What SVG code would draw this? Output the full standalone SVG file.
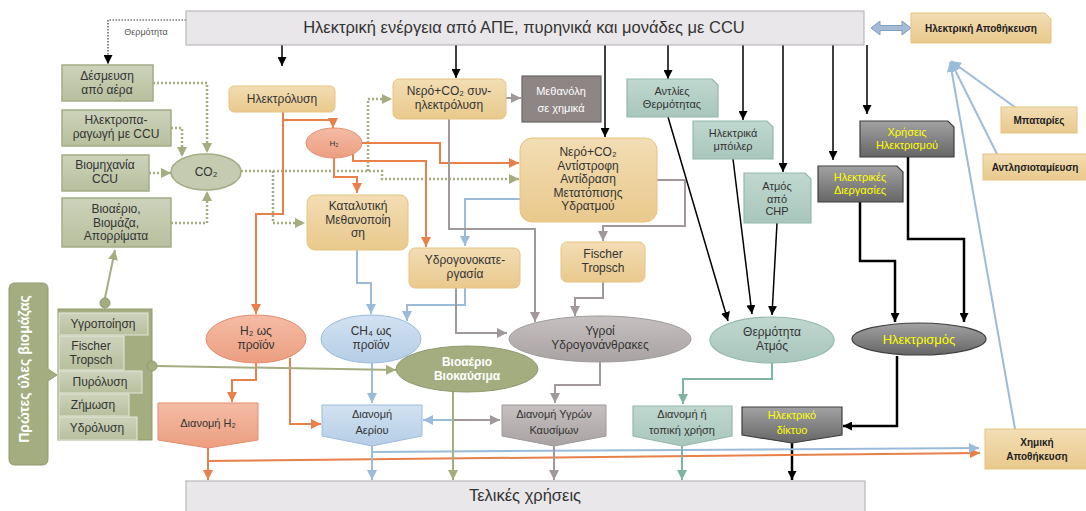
<svg xmlns="http://www.w3.org/2000/svg" width="1086" height="511" viewBox="0 0 1086 511">
<defs>
<linearGradient id="gBeige" x1="0" y1="0" x2="0" y2="1"><stop offset="0" stop-color="#f3ddb4"/><stop offset="1" stop-color="#e9c98c"/></linearGradient>
<linearGradient id="gGreen" x1="0" y1="0" x2="0" y2="1"><stop offset="0" stop-color="#cdd3bb"/><stop offset="1" stop-color="#b7bf9d"/></linearGradient>
<linearGradient id="gTeal" x1="0" y1="0" x2="0" y2="1"><stop offset="0" stop-color="#c0d8cf"/><stop offset="1" stop-color="#a8c6bc"/></linearGradient>
<linearGradient id="gSalmon" x1="0" y1="0" x2="0" y2="1"><stop offset="0" stop-color="#f4bca5"/><stop offset="1" stop-color="#ec9e80"/></linearGradient>
<linearGradient id="gBlue" x1="0" y1="0" x2="0" y2="1"><stop offset="0" stop-color="#d2e2f1"/><stop offset="1" stop-color="#b5cde6"/></linearGradient>
<linearGradient id="gGray" x1="0" y1="0" x2="0" y2="1"><stop offset="0" stop-color="#c6c0c0"/><stop offset="1" stop-color="#a9a2a2"/></linearGradient>
<linearGradient id="gDark" x1="0" y1="0" x2="0" y2="1"><stop offset="0" stop-color="#a2a2a2"/><stop offset="1" stop-color="#666"/></linearGradient>
<marker id="mK" viewBox="0 0 10 10" refX="10" refY="5" markerWidth="9" markerHeight="9" markerUnits="userSpaceOnUse" orient="auto"><path d="M0,0L10,5L0,10z" fill="#000"/></marker>
<marker id="mO" viewBox="0 0 10 10" refX="10" refY="5" markerWidth="10" markerHeight="10" markerUnits="userSpaceOnUse" orient="auto"><path d="M0,0L10,5L0,10z" fill="#e8804a"/></marker>
<marker id="mB" viewBox="0 0 10 10" refX="10" refY="5" markerWidth="10" markerHeight="10" markerUnits="userSpaceOnUse" orient="auto"><path d="M0,0L10,5L0,10z" fill="#9bbbdb"/></marker>
<marker id="mG" viewBox="0 0 10 10" refX="10" refY="5" markerWidth="10" markerHeight="10" markerUnits="userSpaceOnUse" orient="auto"><path d="M0,0L10,5L0,10z" fill="#a19999"/></marker>
<marker id="mN" viewBox="0 0 10 10" refX="10" refY="5" markerWidth="10" markerHeight="10" markerUnits="userSpaceOnUse" orient="auto"><path d="M0,0L10,5L0,10z" fill="#a3ad7f"/></marker>
<marker id="mT" viewBox="0 0 10 10" refX="10" refY="5" markerWidth="10" markerHeight="10" markerUnits="userSpaceOnUse" orient="auto"><path d="M0,0L10,5L0,10z" fill="#7fb3a3"/></marker>
</defs>
<style>
text{font-family:"Liberation Sans",Arial,"DejaVu Sans",sans-serif;fill:#333;text-anchor:middle}
.t12{font-size:12px}
.t11{font-size:11px}
.b10{font-size:10px;font-weight:bold;fill:#222}
.yel{fill:#ffff00}
.wh{fill:#fff}
.ln{fill:none}
.k{stroke:#000;stroke-width:1.5;marker-end:url(#mK)}
.kt{stroke:#000;stroke-width:2.5;marker-end:url(#mK)}
.o{stroke:#e8804a;stroke-width:2;marker-end:url(#mO)}
.bl{stroke:#9bbbdb;stroke-width:2;marker-end:url(#mB)}
.gr{stroke:#a19999;stroke-width:2;marker-end:url(#mG)}
.gn{stroke:#a3ad7f;stroke-width:2;marker-end:url(#mN)}
.gd{stroke:#a3ad7f;stroke-width:2.5;stroke-dasharray:2 2;marker-end:url(#mN)}
.tl{stroke:#7fb3a3;stroke-width:2;marker-end:url(#mT)}
.beige{fill:url(#gBeige);stroke:#e6c482;stroke-width:1}
.green{fill:url(#gGreen);stroke:#a3ad86;stroke-width:1.5}
.teal{fill:url(#gTeal);stroke:#93b8ab;stroke-width:1.2}
.salmon{fill:url(#gSalmon);stroke:#e58c6c;stroke-width:1}
.blue{fill:url(#gBlue);stroke:#9cbcdc;stroke-width:1}
.gray{fill:url(#gGray);stroke:#9e9898;stroke-width:1}
.dark{fill:url(#gDark);stroke:#3f3f3f;stroke-width:1.2}
.olive{fill:#a3ad7f;stroke:#8f9a6c;stroke-width:1}
.inner{fill:url(#gGreen);stroke:#e4e7dc;stroke-width:1}
</style>

<g id="connectors" class="ln">
<path d="M186,20 H108 V64" stroke="#333" stroke-width="1.2" stroke-dasharray="1.5 1.5" marker-end="url(#mK)"/>
<path class="k" d="M282,45 V66"/>
<path class="k" d="M456,45 V78"/>
<path class="k" d="M605,45 V137"/>
<path class="k" d="M668,45 V79"/>
<path class="k" d="M743,45 V120"/>
<path class="k" d="M783,45 V172"/>
<path class="k" d="M833,45 V160"/>
<path class="k" d="M867,45 V114"/>
<path class="k" d="M668,117 L728,321"/>
<path class="k" d="M733,159 L752,314"/>
<path class="k" d="M777,223 L772,315"/>
<path class="kt" d="M860,202 V261 H895 V322"/>
<path class="kt" d="M908,157 V239 H964 V322"/>
<path class="kt" d="M897,356 V426 H843"/>
<path class="kt" d="M792,443 V480"/>
<path class="gd" d="M153,83 H207 V153"/>
<path class="gd" d="M171,128 H182 V157"/>
<path class="gd" d="M149,173 H171"/>
<path class="gd" d="M171,223 H207 V191"/>
<path class="gd" d="M241,171 H382 V179 H519"/>
<path class="gd" d="M368,171 V99 H392"/>
<path class="gd" d="M273,171 V223 H305"/>
<path class="o" d="M283,112 V214 H256 V314"/>
<path class="o" d="M283,120 H333 V128"/>
<path class="o" d="M362,143 H440 V163 H519"/>
<path class="o" d="M353,154 V161 H426 V247"/>
<path class="o" d="M334,158 V177 H357 V193"/>
<path class="o" d="M256,363 V380 H232 V402"/>
<path class="o" d="M290,358 V424 H321"/>
<path class="o" d="M208,448 V480"/>
<path class="o" d="M208,461 L980,453"/>
<path class="bl" d="M520,199 H465 V246"/>
<path class="bl" d="M465,288 V305 H407 V321"/>
<path class="bl" d="M357,250 V283 H371 V314"/>
<path class="bl" d="M372,363 V403"/>
<path class="bl" d="M453,420 H423"/>
<path class="bl" d="M372,446 V480"/>
<path class="bl" d="M373,452 L979,448"/>
<path class="bl" d="M1016,108 L951,61"/>
<path class="bl" d="M997,154 L951,62"/>
<path class="bl" d="M1015,429 L950,62"/>
<path class="gr" d="M506,98 H521"/>
<path class="gr" d="M449,119 V229 H535 V322"/>
<path class="gr" d="M657,180 H685 V226 H603 V241"/>
<path class="gr" d="M603,282 V298 H575 V316"/>
<path class="gr" d="M456,288 V333 H507"/>
<path class="gr" d="M600,362 V385 H555 V403"/>
<path class="gr" d="M453,420 H500"/>
<path class="gr" d="M554,446 V480"/>
<path class="gn" d="M105,298 L115,250"/>
<path class="gn" d="M157,366 L396,370"/>
<path class="gn" d="M453,392 V480"/>
<path class="tl" d="M772,363 V379 H683 V404"/>
<path class="tl" d="M682,446 V480"/>
<path d="M871,28 L880,21 V25.5 H902 V21 L911,28 L902,35 V30.5 H880 V35 Z" fill="#a6bcd6" stroke="#7f9dbd" stroke-width="1"/>
</g>

<g id="top">
<rect x="186" y="11" width="678" height="34" fill="#e9e7e9" stroke="#b0adb0"/>
<text x="524" y="33" style="font-size:16.5px">Ηλεκτρική ενέργεια από ΑΠΕ, πυρηνικά και μονάδες με CCU</text>
</g>
<g id="bottom">
<rect x="186" y="481" width="679" height="34" fill="#e9e7e9" stroke="#b0adb0"/>
<text x="525" y="501" style="font-size:16.5px">Τελικές χρήσεις</text>
</g>
<text x="146" y="35" style="font-size:9px;fill:#555">Θερμότητα</text>

<g id="desmeusi"><rect class="green" x="62" y="65" width="91" height="36"/><text class="t12" x="107" y="80">Δέσμευση<tspan x="107" dy="13.5">από αέρα</tspan></text></g>
<g id="ilektroparagogi"><rect class="green" x="62" y="110" width="109" height="36"/><text class="t12" x="116" y="124">Ηλεκτροπα-<tspan x="116" dy="13.5">ραγωγή με CCU</tspan></text></g>
<g id="viomixania"><rect class="green" x="62" y="155" width="87" height="36"/><text class="t12" x="105" y="169">Βιομηχανία<tspan x="105" dy="13.5">CCU</tspan></text></g>
<g id="vioaerio-box"><rect class="green" x="62" y="198" width="109" height="49"/><text class="t12" x="116" y="213">Βιοαέριο,<tspan x="116" dy="13.5">Βιομάζα,</tspan><tspan x="116" dy="13.5">Απορρίματα</tspan></text></g>
<g id="co2"><ellipse class="green" cx="206" cy="172" rx="35" ry="18" style="fill:#c4cbb0"/><text class="t12" x="206" y="176">CO₂</text></g>

<g id="ilektrolysi"><rect class="beige" x="229" y="86" width="106" height="26" rx="5"/><text class="t12" x="282" y="103">Ηλεκτρόλυση</text></g>
<g id="h2"><ellipse class="salmon" cx="334" cy="143" rx="28" ry="15"/><text x="334" y="146" style="font-size:8px">H₂</text></g>
<g id="synilektrolysi"><rect class="beige" x="393" y="79" width="113" height="40" rx="6"/><text class="t12" x="449" y="95">Νερό+CO₂ συν-<tspan x="449" dy="13.5">ηλεκτρόλυση</tspan></text></g>
<g id="methanoli"><rect x="522" y="76" width="79" height="46" fill="#8e8585" stroke="#6a6464" stroke-width="1.2"/><text class="t11 wh" x="561" y="95">Μεθανόλη<tspan x="561" dy="17">σε χημικά</tspan></text></g>
<g id="antistrofi"><rect class="beige" x="520" y="138" width="137" height="84" rx="12"/><text class="t12" x="588" y="156">Νερό+CO₂<tspan x="588" dy="13.5">Αντίστροφη</tspan><tspan x="588" dy="13.5">Αντίδραση</tspan><tspan x="588" dy="13.5">Μετατόπισης</tspan><tspan x="588" dy="13.5">Υδρατμού</tspan></text></g>
<g id="methanopoiisi"><rect class="beige" x="307" y="195" width="101" height="55" rx="8"/><text class="t12" x="358" y="210">Καταλυτική<tspan x="358" dy="13.5">Μεθανοποίη</tspan><tspan x="358" dy="13.5">ση</tspan></text></g>
<g id="fischer"><rect class="beige" x="561" y="242" width="84" height="40" rx="6"/><text class="t12" x="603" y="258">Fischer<tspan x="603" dy="13.5">Tropsch</tspan></text></g>
<g id="ydrogonokat"><rect class="beige" x="409" y="248" width="111" height="40" rx="6"/><text class="t12" x="465" y="264">Υδρογονοκατε-<tspan x="465" dy="13.5">ργασία</tspan></text></g>

<g id="antlies"><path class="teal" d="M627,79 H712 L718,85 V117 H627 Z"/><text class="t11" x="672" y="95">Αντλίες<tspan x="672" dy="12.5">Θερμότητας</tspan></text></g>
<g id="boiler"><path class="teal" d="M693,121 H767 L773,127 V159 H693 Z"/><text class="t11" x="733" y="137">Ηλεκτρικά<tspan x="733" dy="12.5">μπόιλερ</tspan></text></g>
<g id="chp"><path class="teal" d="M744,173 H805 L811,179 V223 H744 Z"/><text class="t11" x="777" y="190">Ατμός<tspan x="777" dy="12.5">από</tspan><tspan x="777" dy="12.5">CHP</tspan></text></g>
<g id="diergasies"><path class="dark" d="M818,166 H897 L903,172 V202 H818 Z"/><text class="t11 yel" x="860" y="181">Ηλεκτρικές<tspan x="860" dy="12.5">Διεργασίες</tspan></text></g>
<g id="xriseis"><path class="dark" d="M860,121 H948 L954,127 V157 H860 Z"/><text class="t11 yel" x="907" y="136">Χρήσεις<tspan x="907" dy="12.5">Ηλεκτρισμού</tspan></text></g>

<g id="ilektr-apothikeusi"><path class="beige" d="M911,13 H1045 L1051,19 V43 H911 Z"/><text class="b10" x="981" y="32">Ηλεκτρική Αποθήκευση</text></g>
<g id="mpataries"><rect class="beige" x="1001" y="107" width="76" height="26"/><text class="b10" x="1039" y="124">Μπαταρίες</text></g>
<g id="antlisio"><rect class="beige" x="983" y="154" width="110" height="26"/><text class="b10" x="1035" y="171">Αντλησιοταμίευση</text></g>
<g id="ximiki"><rect class="beige" x="985" y="429" width="110" height="40"/><text class="b10" x="1037" y="446">Χημική<tspan x="1037" dy="14">Αποθήκευση</tspan></text></g>

<g id="h2-proion"><ellipse class="salmon" cx="256" cy="339" rx="50" ry="24"/><text class="t12" x="256" y="335">H₂ ως<tspan x="256" dy="13.5">προϊόν</tspan></text></g>
<g id="ch4-proion"><ellipse class="blue" cx="371" cy="339" rx="50" ry="24"/><text class="t12" x="371" y="335">CH₄ ως<tspan x="371" dy="13.5">προϊόν</tspan></text></g>
<g id="vioaerio-viokaysima"><ellipse class="olive" cx="467" cy="369" rx="71" ry="23"/><text class="t12 wh" x="467" y="366" style="font-weight:bold">Βιοαέριο<tspan x="467" dy="13.5">Βιοκαύσιμα</tspan></text></g>
<g id="ygroi"><ellipse class="gray" cx="600" cy="339" rx="91" ry="23"/><text class="t12" x="600" y="335">Υγροί<tspan x="600" dy="13.5">Υδρογονάνθρακες</tspan></text></g>
<g id="thermotita-atmos"><ellipse class="teal" cx="772" cy="340" rx="62" ry="23"/><text class="t12" x="772" y="336">Θερμότητα<tspan x="772" dy="13.5">Ατμός</tspan></text></g>
<g id="ilektrismos"><ellipse class="dark" cx="919" cy="339" rx="67" ry="16"/><text class="yel" x="919" y="344" style="font-size:13px">Ηλεκτρισμός</text></g>

<g id="dianomi-h2"><path class="salmon" d="M158,403 H258 V440 L208,448 L158,440 Z"/><text class="t11" x="208" y="427">Διανομή H₂</text></g>
<g id="dianomi-aeriou"><path class="blue" d="M322,405 H422 V436 L372,446 L322,436 Z"/><text class="t11" x="372" y="418">Διανομή<tspan x="372" dy="16">Αερίου</tspan></text></g>
<g id="dianomi-ygron"><path class="gray" d="M502,405 H606 V436 L554,446 L502,436 Z"/><text class="t11" x="554" y="418">Διανομή Υγρών<tspan x="554" dy="16">Καυσίμων</tspan></text></g>
<g id="dianomi-topiki"><path class="teal" d="M633,406 H732 V436 L682,446 L633,436 Z"/><text class="t11" x="682" y="418">Διανομή ή<tspan x="682" dy="16">τοπική χρήση</tspan></text></g>
<g id="diktyo"><path class="dark" d="M742,407 H842 V435 L792,443 L742,435 Z"/><text class="t11 yel" x="792" y="419">Ηλεκτρικό<tspan x="792" dy="15">δίκτυο</tspan></text></g>

<g id="protes-yles">
<path class="olive" d="M15,283 H42 Q48,283 48,289 V369 L57,375 L48,381 V459 Q48,465 42,465 H15 Q9,465 9,459 V289 Q9,283 15,283 Z"/>
<text x="34" y="374" transform="rotate(-90 29 374)" class="wh" style="font-size:14px;font-weight:bold">Πρώτες ύλες βιομάζας</text>
</g>
<g id="diergasies-viomazas">
<rect class="olive" x="58" y="309" width="94" height="131"/>
<rect class="inner" x="59" y="313" width="89" height="22"/><text class="t12" x="103" y="328">Υγροποίηση</text>
<rect class="inner" x="59" y="336" width="65" height="34"/><text class="t12" x="91" y="350">Fischer<tspan x="91" dy="13.5">Tropsch</tspan></text>
<rect class="inner" x="59" y="371" width="83" height="22"/><text class="t12" x="100" y="386">Πυρόλυση</text>
<rect class="inner" x="59" y="394" width="70" height="22"/><text class="t12" x="93" y="409">Ζήμωση</text>
<rect class="inner" x="59" y="417" width="78" height="23"/><text class="t12" x="97" y="432">Υδρόλυση</text>
<circle cx="105" cy="303" r="5" fill="#a3ad7f" stroke="#8f9a6c"/>
<circle cx="152" cy="366" r="5" fill="#a3ad7f" stroke="#8f9a6c"/>
</g>
</svg>
